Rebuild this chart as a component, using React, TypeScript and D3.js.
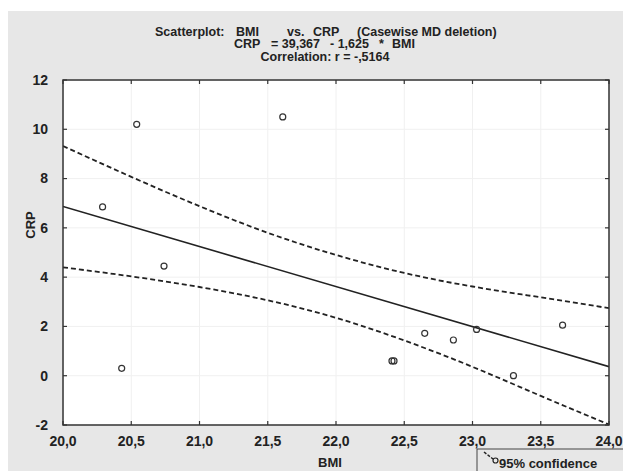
import React from "react";
import * as d3 from "d3";

// data
const bmi = [20.29, 20.54, 20.43, 20.74, 21.61, 22.41, 22.425, 22.65, 22.86, 23.03, 23.3, 23.66];
const crp = [6.85, 10.2, 0.3, 4.45, 10.5, 0.6, 0.6, 1.72, 1.45, 1.88, 0.0, 2.05];

// regression line end points (CRP = 39,367 - 1,625 * BMI)
const fitX = [20, 24];
const fitY = [6.867, 0.367];

// 95% confidence band
const bandX = [20, 20.5, 21, 21.5, 22, 22.5, 23, 23.5, 24];
const bandUpper = [9.32, 8.07, 6.88, 5.8, 4.9, 4.17, 3.62, 3.18, 2.74];
const bandLower = [4.4, 4.03, 3.6, 3.06, 2.35, 1.43, 0.36, -0.82, -1.98];

const xTicks = [20, 20.5, 21, 21.5, 22, 22.5, 23, 23.5, 24];
const yTicks = [-2, 0, 2, 4, 6, 8, 10, 12];

const W = 623;
const H = 471;
const left = 63, right = 609, top = 80, bottom = 425;
const ink = "#222";
const font = "'Liberation Sans', Arial, sans-serif";

const fmt = (v: number) => d3.format(".1f")(v).replace(".", ",");

export default function App() {
  const x = d3.scaleLinear().domain([20, 24]).range([left, right]);
  const y = d3.scaleLinear().domain([-2, 12]).range([bottom, top]);

  const band = d3
    .line<number>()
    .x((d, i) => x(bandX[i]))
    .y((d) => y(d))
    .curve(d3.curveNatural);

  const fit = d3
    .line<number>()
    .x((d, i) => x(fitX[i]))
    .y((d) => y(d));

  return (
    <svg width={W} height={H} style={{ position: "absolute", left: 0, top: 0 }} fontFamily={font}>
      <rect x={0} y={0} width={W} height={H} fill="#fff" />
      <rect x={8} y={11} width={W - 8} height={H - 11} fill="#e7e7e7" />

      {/* title */}
      <g fontSize={12.5} fontWeight="bold" fill={ink}>
        <text y={35.5}>
          <tspan x={155}>Scatterplot:</tspan>
          <tspan x={236}>BMI</tspan>
          <tspan x={287}>vs.</tspan>
          <tspan x={313}>CRP</tspan>
          <tspan x={357}>(Casewise MD deletion)</tspan>
        </text>
        <text y={48}>
          <tspan x={234}>CRP</tspan>
          <tspan x={271}>= 39,367</tspan>
          <tspan x={330}>- 1,625</tspan>
          <tspan x={379}>*</tspan>
          <tspan x={392}>BMI</tspan>
        </text>
        <text x={325} y={60.5} textAnchor="middle">Correlation: r = -,5164</text>
      </g>

      {/* plot area */}
      <rect x={left} y={top} width={right - left} height={bottom - top} fill="#fff" />
      <g stroke="#f0f0f0" strokeWidth={1}>
        {xTicks.map((t) => (
          <line key={"gx" + t} x1={x(t)} x2={x(t)} y1={top} y2={bottom} />
        ))}
        {yTicks.map((t) => (
          <line key={"gy" + t} x1={left} x2={right} y1={y(t)} y2={y(t)} />
        ))}
      </g>

      <defs>
        <clipPath id="plot">
          <rect x={left} y={top} width={right - left} height={bottom - top} />
        </clipPath>
      </defs>

      <g clipPath="url(#plot)" fill="none">
        <path d={band(bandUpper) || ""} stroke={ink} strokeWidth={1.8} strokeDasharray="5,3" />
        <path d={band(bandLower) || ""} stroke={ink} strokeWidth={1.8} strokeDasharray="5,3" />
        <path d={fit(fitY) || ""} stroke={ink} strokeWidth={1.6} />
      </g>

      <g fill="none" stroke="#333" strokeWidth={1.2}>
        {bmi.map((b, i) => (
          <circle key={i} cx={x(b)} cy={y(crp[i])} r={3} />
        ))}
      </g>

      {/* frame and inward ticks */}
      <rect x={left} y={top} width={right - left} height={bottom - top} fill="none" stroke="#333" strokeWidth={1.5} />
      <g stroke="#333" strokeWidth={1.2}>
        {xTicks.map((t) => (
          <g key={"tx" + t}>
            <line x1={x(t)} x2={x(t)} y1={bottom} y2={bottom - 4} />
            <line x1={x(t)} x2={x(t)} y1={top} y2={top + 4} />
          </g>
        ))}
        {yTicks.map((t) => (
          <g key={"ty" + t}>
            <line x1={left} x2={left + 4} y1={y(t)} y2={y(t)} />
            <line x1={right} x2={right - 4} y1={y(t)} y2={y(t)} />
          </g>
        ))}
      </g>

      {/* tick labels */}
      <g fontSize={14} fontWeight="bold" fill={ink}>
        {xTicks.map((t) => (
          <text key={"lx" + t} x={x(t)} y={446} textAnchor="middle">
            {fmt(t)}
          </text>
        ))}
        {yTicks.map((t) => (
          <text key={"ly" + t} x={48} y={y(t)} dy="0.35em" textAnchor="end">
            {t}
          </text>
        ))}
        <text x={330} y={467} fontSize={13} textAnchor="middle">BMI</text>
        <text transform="translate(35,225) rotate(-90)" fontSize={13} textAnchor="middle">CRP</text>
      </g>

      {/* legend */}
      <rect x={477} y={449} width={160} height={30} fill="#e7e7e7" stroke="#444" strokeWidth={1} />
      <line x1={484} y1={452} x2={493} y2={459} stroke={ink} strokeWidth={1.5} strokeDasharray="3,1.5" />
      <circle cx={495.5} cy={460.5} r={2.5} fill="none" stroke={ink} strokeWidth={1.2} />
      <text x={499} y={467.5} fontSize={13} fontWeight="bold" fill={ink}>95% confidence</text>
    </svg>
  );
}
